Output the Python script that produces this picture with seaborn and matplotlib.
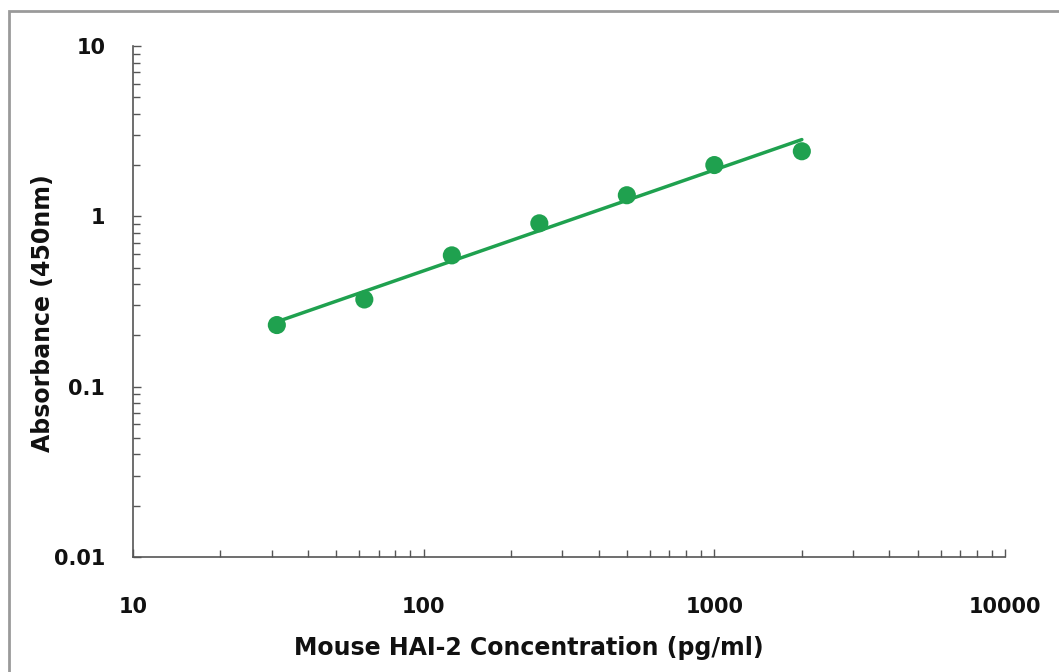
import numpy as np
import matplotlib
matplotlib.use("Agg")
import matplotlib.pyplot as plt
import seaborn as sns
from matplotlib.patches import Rectangle
from matplotlib.ticker import LogLocator, NullFormatter, FixedLocator

# standard curve readings
concentration = [31.25, 62.5, 125, 250, 500, 1000, 2000]
absorbance = [0.23, 0.325, 0.59, 0.91, 1.33, 2.0, 2.41]
x_ticks = [10, 100, 1000, 10000]
x_tick_labels = ["10", "100", "1000", "10000"]
y_ticks = [0.01, 0.1, 1, 10]
y_tick_labels = ["0.01", "0.1", "1", "10"]

green = "#1fa14f"

sns.set_style("white")
plt.rcParams["font.family"] = ["DejaVu Sans"]

fig = plt.figure(figsize=(10.59, 6.72), dpi=100)
ax = fig.add_axes([133 / 1059, 1 - 557 / 672, (1005 - 133) / 1059, (557 - 46) / 672])

# power fit in log space
slope, intercept = np.polyfit(np.log10(concentration), np.log10(absorbance), 1)
fit_x = np.array([concentration[0], concentration[-1]])
fit_y = 10 ** (intercept + slope * np.log10(fit_x))

sns.lineplot(x=fit_x, y=fit_y, ax=ax, color=green, linewidth=2.5)
sns.scatterplot(x=concentration, y=absorbance, ax=ax, color=green, s=170,
                edgecolor="none", zorder=3)

ax.set_xscale("log")
ax.set_yscale("log")
ax.set_xlim(10, 10000)
ax.set_ylim(0.01, 10)

ax.xaxis.set_major_locator(FixedLocator(x_ticks))
ax.set_xticklabels(x_tick_labels)
ax.yaxis.set_major_locator(FixedLocator(y_ticks))
ax.set_yticklabels(y_tick_labels)
ax.xaxis.set_minor_locator(LogLocator(base=10, subs=np.arange(2, 10)))
ax.yaxis.set_minor_locator(LogLocator(base=10, subs=np.arange(2, 10)))
ax.xaxis.set_minor_formatter(NullFormatter())
ax.yaxis.set_minor_formatter(NullFormatter())

ax.tick_params(axis="both", which="both", bottom=True, left=True,
               direction="in", width=1, color="#555555")
ax.tick_params(axis="both", which="major", length=6, labelsize=15)
ax.tick_params(axis="both", which="minor", length=5)
ax.tick_params(axis="x", which="major", pad=29)
ax.tick_params(axis="y", which="major", pad=20)
for lbl in ax.get_xticklabels() + ax.get_yticklabels():
    lbl.set_fontweight("bold")
    lbl.set_color("#111111")

sns.despine(ax=ax)
for side in ["left", "bottom"]:
    ax.spines[side].set_color("#555555")
    ax.spines[side].set_linewidth(1.2)

ax.set_xlabel("Mouse HAI-2 Concentration (pg/ml)", fontsize=17, fontweight="bold",
              color="#111111")
ax.set_ylabel("Absorbance (450nm)", fontsize=17, fontweight="bold",
              color="#111111")
ax.xaxis.set_label_coords(0.454, -0.155)
ax.yaxis.set_label_coords(-0.089, 0.477)

# outer chart border
fig.patches.append(Rectangle((9 / 1059, -0.05), 1.1, 1 - 11 / 672 + 0.05,
                             transform=fig.transFigure, fill=False,
                             edgecolor="#9a9a9a", linewidth=2))

fig.savefig("out.png", dpi=100)
